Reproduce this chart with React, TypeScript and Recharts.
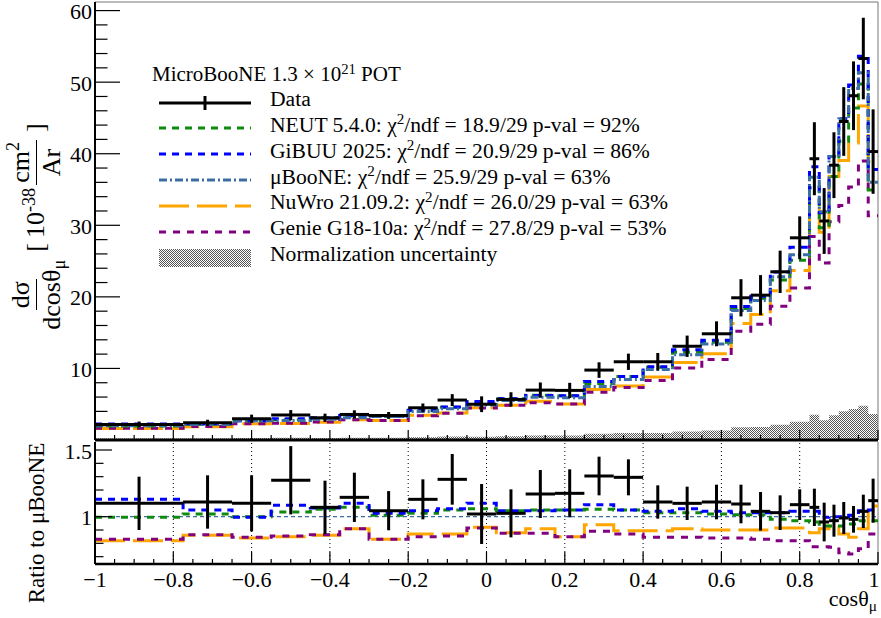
import React from 'react';
import { ComposedChart, Line, Area, Scatter, ErrorBar, XAxis, YAxis, ReferenceLine } from 'recharts';

const SERIF = "'Liberation Serif', 'Times New Roman', serif";

// cos(theta_mu) bin edges (29 bins)
const binEdges = [-1, -0.775, -0.65, -0.55, -0.45, -0.375, -0.3, -0.2, -0.125, -0.05, 0.025, 0.1, 0.175, 0.25,
  0.325, 0.4, 0.475, 0.55, 0.625, 0.675, 0.725, 0.775, 0.825, 0.85, 0.875, 0.9, 0.925, 0.95, 0.975, 1];

// upper panel: dsigma/dcos [1e-38 cm2/Ar]
const dataXsec = [2.18, 2.4, 2.97, 3.48, 3.1, 3.57, 3.43, 4.5, 5.58, 5.0, 5.67, 6.97, 6.93, 9.77, 10.93,
  10.93, 13.1, 14.84, 19.87, 20.24, 23.5, 28.25, 39.3, 30.6, 38.4, 44.5, 48.1, 53.3, 40.3];
const dataErr = [0.4, 0.43, 0.57, 0.7, 0.58, 0.58, 0.48, 0.6, 0.83, 1.1, 1.0, 1.07, 1.06, 1.09, 1.14,
  1.23, 1.49, 1.74, 2.6, 2.8, 2.96, 3.0, 5.1, 4.6, 4.6, 4.8, 4.8, 5.7, 5.9];
const neutXsec = [1.97, 2.2, 2.7, 2.83, 3.06, 3.34, 3.31, 4.08, 4.58, 5.19, 5.78, 6.26, 6.2, 7.9, 8.86,
  10.15, 12.26, 13.67, 18.37, 19.79, 22.34, 25.12, 35.23, 29.67, 36.83, 41.76, 46.4, 49.76, 34.92];
const gibuuXsec = [2.24, 2.27, 2.69, 2.96, 3.09, 3.43, 3.36, 4.16, 4.62, 5.39, 5.78, 6.23, 6.2, 8.16, 8.86,
  10.24, 12.61, 13.94, 18.64, 20.09, 23.48, 26.94, 38.17, 31.74, 39.6, 44.9, 49.59, 53.61, 37.8];
const uboneXsec = [1.98, 2.16, 2.7, 2.73, 2.9, 3.12, 3.28, 3.98, 4.36, 4.9, 5.53, 5.96, 5.9, 7.49, 8.44,
  9.85, 11.9, 13.4, 18.1, 19.5, 22.8, 25.9, 36.7, 31.9, 39.6, 44.9, 49.1, 51.3, 36.0];
const nuwroXsec = [1.62, 1.86, 2.27, 2.32, 2.49, 2.84, 2.72, 3.46, 3.79, 4.51, 4.87, 5.42, 5.02, 7.04, 7.55,
  8.82, 10.83, 12.06, 16.29, 17.55, 20.86, 23.7, 32.3, 29.03, 36.83, 39.06, 41.49, 46.68, 38.88];
const genieXsec = [1.64, 1.87, 2.28, 2.33, 2.51, 2.84, 2.72, 3.38, 3.73, 4.48, 4.84, 5.22, 5.02, 6.67, 7.34,
  8.32, 10.06, 11.26, 15.2, 16.19, 18.7, 21.24, 28.44, 24.72, 30.49, 32.78, 35.35, 38.99, 31.32];
const normUnc = [0.2, 0.22, 0.27, 0.31, 0.28, 0.32, 0.31, 0.4, 0.5, 0.45, 0.51, 0.63, 0.62, 0.88, 0.98,
  0.98, 1.18, 1.34, 1.79, 1.82, 2.12, 2.54, 3.54, 2.75, 3.46, 4.0, 4.33, 4.8, 3.63];

// lower panel: ratio to uBooNE
const dataRatio = [1.1, 1.11, 1.1, 1.273, 1.07, 1.145, 1.045, 1.13, 1.28, 1.02, 1.025, 1.17, 1.175, 1.305, 1.295,
  1.11, 1.1, 1.11, 1.095, 1.04, 1.03, 1.09, 1.07, 0.96, 0.97, 0.99, 0.98, 1.04, 1.12];
const dataRatioErr = [0.2, 0.2, 0.21, 0.256, 0.2, 0.185, 0.147, 0.15, 0.19, 0.225, 0.18, 0.18, 0.18, 0.145, 0.135,
  0.125, 0.125, 0.13, 0.145, 0.145, 0.13, 0.115, 0.14, 0.145, 0.12, 0.12, 0.1, 0.125, 0.165];
const neutRatio = [0.995, 1.02, 1.0, 1.035, 1.055, 1.07, 1.01, 1.025, 1.05, 1.06, 1.045, 1.05, 1.05, 1.055, 1.05,
  1.03, 1.03, 1.02, 1.015, 1.015, 0.98, 0.97, 0.96, 0.93, 0.93, 0.93, 0.945, 0.97, 0.97];
const gibuuRatio = [1.13, 1.05, 0.995, 1.085, 1.065, 1.1, 1.025, 1.045, 1.06, 1.1, 1.045, 1.045, 1.05, 1.09, 1.05,
  1.04, 1.06, 1.04, 1.03, 1.03, 1.03, 1.04, 1.04, 0.995, 1.0, 1.0, 1.01, 1.045, 1.05];
const nuwroRatio = [0.82, 0.86, 0.84, 0.85, 0.86, 0.91, 0.83, 0.87, 0.87, 0.92, 0.88, 0.91, 0.85, 0.94, 0.895,
  0.895, 0.91, 0.9, 0.9, 0.9, 0.915, 0.915, 0.88, 0.91, 0.93, 0.87, 0.845, 0.91, 1.08];
const genieRatio = [0.83, 0.865, 0.845, 0.855, 0.865, 0.91, 0.83, 0.85, 0.855, 0.915, 0.875, 0.875, 0.85, 0.89, 0.87,
  0.845, 0.845, 0.84, 0.84, 0.83, 0.82, 0.82, 0.775, 0.775, 0.77, 0.73, 0.72, 0.76, 0.87];

const xMajorTicks = [-1, -0.8, -0.6, -0.4, -0.2, 0, 0.2, 0.4, 0.6, 0.8, 1];
const ratioGridX = [-0.8, -0.6, -0.4, -0.2, 0, 0.2, 0.4, 0.6, 0.8];
const yTopMajor = [10, 20, 30, 40, 50, 60];
const yRatioMajor = [1, 1.5];

const Y_TOP_MAX = 61.2;
const Y_RATIO = [0.645, 1.56];

const COLORS = {
  neut: '#0f8a0f',
  gibuu: '#0000ff',
  ubone: '#3c6ea6',
  nuwro: '#ffa500',
  genie: '#800080',
};
const DASH = {
  neut: '7 6',
  gibuu: '7 6',
  ubone: '8 3 2 3',
  nuwro: '30 8',
  genie: '7 7',
};

// histogram outlines as step lines through the bin edges
const nBins = binEdges.length - 1;
const topRows = binEdges.map((x, i) => {
  const j = Math.min(i, nBins - 1);
  return {
    x,
    neut: neutXsec[j],
    gibuu: gibuuXsec[j],
    ubone: uboneXsec[j],
    nuwro: nuwroXsec[j],
    genie: genieXsec[j],
    norm: normUnc[j],
  };
});
const ratioRows = binEdges.map((x, i) => {
  const j = Math.min(i, nBins - 1);
  return { x, neut: neutRatio[j], gibuu: gibuuRatio[j], nuwro: nuwroRatio[j], genie: genieRatio[j] };
});
const dataPts = dataXsec.map((y, i) => ({
  x: (binEdges[i] + binEdges[i + 1]) / 2,
  y,
  ey: dataErr[i],
  ex: (binEdges[i + 1] - binEdges[i]) / 2,
}));
const ratioPts = dataRatio.map((y, i) => ({
  x: (binEdges[i] + binEdges[i + 1]) / 2,
  y,
  ey: dataRatioErr[i],
  ex: (binEdges[i + 1] - binEdges[i]) / 2,
}));

const xAllTicks: number[] = [];
for (let k = -20; k <= 20; k++) xAllTicks.push(k / 20);
const yTopTicks: number[] = [];
for (let k = 1; k <= 30; k++) yTopTicks.push(k * 2);
const yRatioTicks = [0.7, 0.8, 0.9, 1, 1.1, 1.2, 1.3, 1.4, 1.5];

const near = (a: number, list: number[]) => list.some((b) => Math.abs(a - b) < 1e-6);
const fmtX = (v: number) => (Math.abs(v) < 1e-9 ? '0' : v < 0 ? '\u2212' + String(-v) : String(v));

const makeXTick = (showLabel: boolean, majorLen: number, minorLen: number) => (p: any) => {
  const { x, y, payload } = p;
  const major = near(payload.value, xMajorTicks);
  // keep the last label inside the picture
  const lx = payload.value >= 1 ? x - 4 : x;
  return (
    <g>
      <line x1={x} x2={x} y1={y} y2={y - (major ? majorLen : minorLen)} stroke="#000" strokeWidth={1.2} />
      {showLabel && major && (
        <text x={lx} y={y + 15} textAnchor="middle" dominantBaseline="central" fontSize={22} fontFamily={SERIF} fill="#000">
          {fmtX(payload.value)}
        </text>
      )}
    </g>
  );
};

const makeYTick = (majors: number[], majorLen: number, minorLen: number) => (p: any) => {
  const { x, y, payload } = p;
  const major = near(payload.value, majors);
  const x0 = x + 6;
  return (
    <g>
      <line x1={x0} x2={x0 + (major ? majorLen : minorLen)} y1={y} y2={y} stroke="#000" strokeWidth={1.2} />
      {major && (
        <text x={x0 - 3} y={y + 1} textAnchor="end" dominantBaseline="central" fontSize={22} fontFamily={SERIF} fill="#000">
          {payload.value}
        </text>
      )}
    </g>
  );
};

const Frac = ({ num, den }: { num: React.ReactNode; den: React.ReactNode }) => (
  <span style={{ display: 'inline-flex', flexDirection: 'column', alignItems: 'center', margin: '0 3px', lineHeight: 1 }}>
    <span style={{ borderBottom: '1.5px solid #000', padding: '0 2px 2px' }}>{num}</span>
    <span style={{ paddingTop: 2 }}>{den}</span>
  </span>
);

const Sup = ({ children }: { children: React.ReactNode }) => (
  <span style={{ fontSize: '0.7em', position: 'relative', top: '-0.5em' }}>{children}</span>
);
const Sub = ({ children }: { children: React.ReactNode }) => (
  <span style={{ fontSize: '0.7em', position: 'relative', top: '0.3em' }}>{children}</span>
);

const legendRows = [
  { key: 'data', label: 'Data' },
  { key: 'neut', label: 'NEUT 5.4.0: ', stat: '18.9/29 p-val = 92%' },
  { key: 'gibuu', label: 'GiBUU 2025: ', stat: '20.9/29 p-val = 86%' },
  { key: 'ubone', label: 'μBooNE: ', stat: '25.9/29 p-val = 63%' },
  { key: 'nuwro', label: 'NuWro 21.09.2: ', stat: '26.0/29 p-val = 63%' },
  { key: 'genie', label: 'Genie G18-10a: ', stat: '27.8/29 p-val = 53%' },
  { key: 'norm', label: 'Normalization uncertainty' },
];

function Swatch({ kind }: { kind: string }) {
  if (kind === 'data') {
    return (
      <svg width={94} height={20}>
        <line x1={1} x2={93} y1={10} y2={10} stroke="#000" strokeWidth={3} />
        <line x1={47} x2={47} y1={3} y2={17} stroke="#000" strokeWidth={3} />
      </svg>
    );
  }
  if (kind === 'norm') {
    return (
      <svg width={94} height={20}>
        <defs>
          <pattern id="legHatch" width="2" height="2" patternUnits="userSpaceOnUse">
            <rect width="2" height="2" fill="#fff" />
            <rect width="1" height="1" fill="#555" />
            <rect x="1" y="1" width="1" height="1" fill="#555" />
          </pattern>
        </defs>
        <rect x={1} y={1} width={92} height={18} fill="url(#legHatch)" />
      </svg>
    );
  }
  const k = kind as keyof typeof COLORS;
  return (
    <svg width={94} height={20}>
      <line x1={1} x2={93} y1={10} y2={10} stroke={COLORS[k]} strokeWidth={3} strokeDasharray={DASH[k]} />
    </svg>
  );
}

export default function App() {
  return (
    <div style={{ position: 'absolute', left: 0, top: 0, width: 881, height: 618, background: '#fff', fontFamily: SERIF }}>
      {/* upper panel */}
      <div style={{ position: 'absolute', left: 0, top: 0 }}>
        <ComposedChart width={881} height={446} data={topRows} margin={{ top: 2, right: 3, bottom: 0, left: 0 }}>
          <defs>
            <pattern id="normHatch" width="2" height="2" patternUnits="userSpaceOnUse">
              <rect width="2" height="2" fill="#fff" />
              <rect width="1" height="1" fill="#555" />
              <rect x="1" y="1" width="1" height="1" fill="#555" />
            </pattern>
          </defs>
          <XAxis
            type="number"
            dataKey="x"
            domain={[-1, 1]}
            allowDataOverflow
            ticks={xAllTicks}
            interval={0}
            height={6}
            tickSize={0}
            tickMargin={0}
            tickLine={false}
            axisLine={{ stroke: '#000', strokeWidth: 3 }}
            tick={makeXTick(false, 10, 5)}
          />
          <YAxis
            type="number"
            domain={[0, Y_TOP_MAX]}
            allowDataOverflow
            ticks={yTopTicks}
            interval={0}
            width={95}
            tickSize={0}
            tickMargin={6}
            tickLine={false}
            axisLine={{ stroke: '#000', strokeWidth: 2 }}
            tick={makeYTick(yTopMajor, 25, 12.5)}
          />
          <ReferenceLine y={Y_TOP_MAX} stroke="#777" strokeWidth={1} />
          <ReferenceLine x={1} stroke="#777" strokeWidth={1} />
          <Area type="stepAfter" dataKey="norm" stroke="none" fill="url(#normHatch)" fillOpacity={1} dot={false} activeDot={false} isAnimationActive={false} />
          <Line type="stepAfter" dataKey="nuwro" stroke={COLORS.nuwro} strokeWidth={3} strokeDasharray={DASH.nuwro} dot={false} activeDot={false} isAnimationActive={false} />
          <Line type="stepAfter" dataKey="genie" stroke={COLORS.genie} strokeWidth={3} strokeDasharray={DASH.genie} dot={false} activeDot={false} isAnimationActive={false} />
          <Line type="stepAfter" dataKey="neut" stroke={COLORS.neut} strokeWidth={3} strokeDasharray={DASH.neut} dot={false} activeDot={false} isAnimationActive={false} />
          <Line type="stepAfter" dataKey="gibuu" stroke={COLORS.gibuu} strokeWidth={3} strokeDasharray={DASH.gibuu} dot={false} activeDot={false} isAnimationActive={false} />
          <Line type="stepAfter" dataKey="ubone" stroke={COLORS.ubone} strokeWidth={3} strokeDasharray={DASH.ubone} dot={false} activeDot={false} isAnimationActive={false} />
          <Scatter data={dataPts} dataKey="y" shape={() => <g />} isAnimationActive={false}>
            <ErrorBar dataKey="ex" direction="x" width={0} stroke="#000" strokeWidth={3} />
            <ErrorBar dataKey="ey" direction="y" width={0} stroke="#000" strokeWidth={3} />
          </Scatter>
        </ComposedChart>
      </div>

      {/* ratio panel */}
      <div style={{ position: 'absolute', left: 0, top: 428 }}>
        <ComposedChart width={881} height={190} data={ratioRows} margin={{ top: 14, right: 3, bottom: 0, left: 0 }}>
          <XAxis
            type="number"
            dataKey="x"
            domain={[-1, 1]}
            allowDataOverflow
            ticks={xAllTicks}
            interval={0}
            height={54}
            tickSize={0}
            tickMargin={0}
            tickLine={false}
            axisLine={{ stroke: '#000', strokeWidth: 2.5 }}
            tick={makeXTick(true, 12, 5)}
          />
          <YAxis
            type="number"
            domain={Y_RATIO}
            allowDataOverflow
            ticks={yRatioTicks}
            interval={0}
            width={95}
            tickSize={0}
            tickMargin={6}
            tickLine={false}
            axisLine={{ stroke: '#000', strokeWidth: 2 }}
            tick={makeYTick(yRatioMajor, 17, 8.5)}
          />
          <ReferenceLine x={1} stroke="#777" strokeWidth={1} />
          {ratioGridX.map((v) => (
            <ReferenceLine key={v} x={v} stroke="#000" strokeWidth={1} strokeDasharray="1 3" />
          ))}
          <ReferenceLine y={1} stroke={COLORS.ubone} strokeWidth={1.2} strokeDasharray="4 3" />
          <Line type="stepAfter" dataKey="nuwro" stroke={COLORS.nuwro} strokeWidth={3} strokeDasharray={DASH.nuwro} dot={false} activeDot={false} isAnimationActive={false} />
          <Line type="stepAfter" dataKey="genie" stroke={COLORS.genie} strokeWidth={3} strokeDasharray={DASH.genie} dot={false} activeDot={false} isAnimationActive={false} />
          <Line type="stepAfter" dataKey="neut" stroke={COLORS.neut} strokeWidth={3} strokeDasharray={DASH.neut} dot={false} activeDot={false} isAnimationActive={false} />
          <Line type="stepAfter" dataKey="gibuu" stroke={COLORS.gibuu} strokeWidth={3} strokeDasharray={DASH.gibuu} dot={false} activeDot={false} isAnimationActive={false} />
          <Scatter data={ratioPts} dataKey="y" shape={() => <g />} isAnimationActive={false}>
            <ErrorBar dataKey="ex" direction="x" width={0} stroke="#000" strokeWidth={3} />
            <ErrorBar dataKey="ey" direction="y" width={0} stroke="#000" strokeWidth={3} />
          </Scatter>
        </ComposedChart>
      </div>

      {/* axis titles */}
      <div
        style={{
          position: 'absolute', left: 36 - 130, top: 228 - 32, width: 260, height: 64,
          transform: 'rotate(-90deg)', display: 'flex', alignItems: 'center', justifyContent: 'center',
          fontSize: 26, whiteSpace: 'nowrap', color: '#000',
        }}
      >
        <Frac num="dσ" den={<>dcosθ<Sub>μ</Sub></>} />
        <span style={{ margin: '0 5px' }}>[</span>
        <span>10<Sup>-38</Sup></span>
        <Frac num={<>cm<Sup>2</Sup></>} den="Ar" />
        <span style={{ marginLeft: 5 }}>]</span>
      </div>
      <div
        style={{
          position: 'absolute', left: 37 - 100, top: 523 - 15, width: 200, height: 30,
          transform: 'rotate(-90deg)', textAlign: 'center', fontSize: 23, lineHeight: '30px', whiteSpace: 'nowrap',
        }}
      >
        Ratio to μBooNE
      </div>
      <div style={{ position: 'absolute', right: 4, top: 588, fontSize: 22, lineHeight: 1, whiteSpace: 'nowrap' }}>
        cosθ<Sub>μ</Sub>
      </div>

      {/* legend */}
      <div style={{ position: 'absolute', left: 152, top: 82.7 - 18.5, fontSize: 21, lineHeight: 1, whiteSpace: 'nowrap' }}>
        MicroBooNE 1.3 × 10<Sup>21</Sup> POT
      </div>
      {legendRows.map((r, i) => {
        const base = 108.5 + i * 25.85;
        return (
          <React.Fragment key={r.key}>
            <div style={{ position: 'absolute', left: 158, top: base - 16 }}>
              <Swatch kind={r.key} />
            </div>
            <div style={{ position: 'absolute', left: 270, top: base - 19.5, fontSize: 21.6, lineHeight: 1, whiteSpace: 'nowrap' }}>
              {r.label}
              {r.stat && (
                <>
                  χ<Sup>2</Sup>/ndf = {r.stat}
                </>
              )}
            </div>
          </React.Fragment>
        );
      })}
    </div>
  );
}
